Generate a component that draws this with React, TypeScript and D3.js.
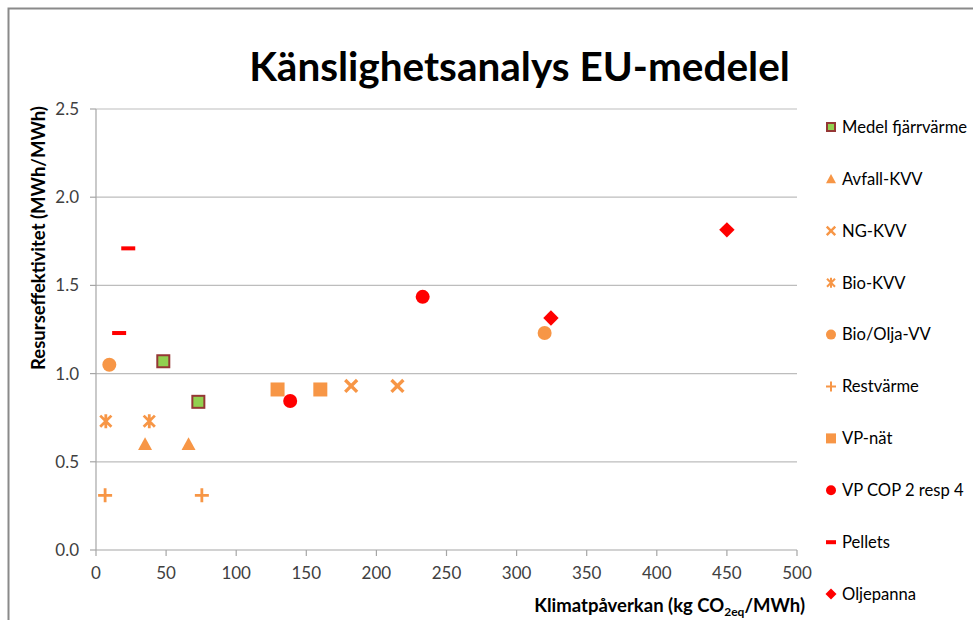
import React from "react";
import * as d3 from "d3";

// ---- data ----
const seriesNames = [
  "Medel fjärrvärme",
  "Avfall-KVV",
  "NG-KVV",
  "Bio-KVV",
  "Bio/Olja-VV",
  "Restvärme",
  "VP-nät",
  "VP COP 2 resp 4",
  "Pellets",
  "Oljepanna",
];
const medelFjarrvarme: [number, number][] = [[48, 1.07], [73, 0.84]];
const avfallKVV: [number, number][] = [[35, 0.6], [66, 0.6]];
const ngKVV: [number, number][] = [[182, 0.93], [215, 0.93]];
const bioKVV: [number, number][] = [[7, 0.73], [38, 0.73]];
const bioOljaVV: [number, number][] = [[9.5, 1.05], [320, 1.23]];
const restvarme: [number, number][] = [[6.5, 0.31], [75.5, 0.31]];
const vpNat: [number, number][] = [[129.5, 0.91], [160, 0.91]];
const vpCop: [number, number][] = [[138.5, 0.845], [233, 1.435]];
const pellets: [number, number][] = [[23, 1.71], [16.5, 1.23]];
const oljepanna: [number, number][] = [[450, 1.815], [324.5, 1.315]];
const seriesData = [medelFjarrvarme, avfallKVV, ngKVV, bioKVV, bioOljaVV, restvarme, vpNat, vpCop, pellets, oljepanna];

const xTicks = [0, 50, 100, 150, 200, 250, 300, 350, 400, 450, 500];
const yTicks = [0, 0.5, 1.0, 1.5, 2.0, 2.5];

const titleText = "Känslighetsanalys EU-medelel";
const yLabel = "Resurseffektivitet (MWh/MWh)";

// ---- styles ----
const ORANGE = "#F79646";
const RED = "#FF0000";
const GREEN = "#92D050";
const BORDER = "#953735";
const seriesSymbols = ["square-b", "triangle", "x", "star", "circle", "plus", "square", "circle", "dash", "diamond"];
const seriesColors = [GREEN, ORANGE, ORANGE, ORANGE, ORANGE, ORANGE, ORANGE, RED, RED, RED];

const FONT = "Lato, 'Open Sans', sans-serif";

function Marker({ type, color, cx, cy, s }: { type: string; color: string; cx: number; cy: number; s: number }) {
  const h = s / 2;
  switch (type) {
    case "square-b":
      return <rect x={cx - h + 1} y={cy - h + 1} width={s - 2} height={s - 2} fill={color} stroke={BORDER} strokeWidth={2} />;
    case "square":
      return <rect x={cx - h} y={cy - h} width={s} height={s} fill={color} />;
    case "circle":
      return <circle cx={cx} cy={cy} r={h} fill={color} />;
    case "triangle":
      return <path d={`M${cx},${cy - h}L${cx + h},${cy + h * 0.85}L${cx - h},${cy + h * 0.85}Z`} fill={color} />;
    case "diamond":
      return <path d={`M${cx},${cy - h * 1.1}L${cx + h * 1.1},${cy}L${cx},${cy + h * 1.1}L${cx - h * 1.1},${cy}Z`} fill={color} />;
    case "x": {
      const k = h * 0.85;
      return <path d={`M${cx - k},${cy - k}L${cx + k},${cy + k}M${cx + k},${cy - k}L${cx - k},${cy + k}`} stroke={color} strokeWidth={s * 0.24} fill="none" />;
    }
    case "star": {
      const k = h * 0.8;
      return <path d={`M${cx - k},${cy - k}L${cx + k},${cy + k}M${cx + k},${cy - k}L${cx - k},${cy + k}M${cx},${cy - h}L${cx},${cy + h}`} stroke={color} strokeWidth={s * 0.2} fill="none" />;
    }
    case "plus":
      return <path d={`M${cx - h},${cy}L${cx + h},${cy}M${cx},${cy - h}L${cx},${cy + h}`} stroke={color} strokeWidth={s * 0.2} fill="none" />;
    case "dash":
      return <rect x={cx - h} y={cy - 2} width={s} height={4} fill={color} />;
    default:
      return null;
  }
}

export default function App() {
  const W = 973, H = 620;
  const x = d3.scaleLinear().domain([0, 500]).range([96, 797]);
  const y = d3.scaleLinear().domain([0, 2.5]).range([550, 109]);
  const fmtY = d3.format(".1f");

  const legendX = 831;
  const legendY0 = 127;
  const legendStep = 51.9;

  return (
    <svg width={W} height={H} style={{ position: "absolute", left: 0, top: 0, background: "#fff" }} fontFamily={FONT}>
      <rect x={0} y={0} width={W} height={H} fill="#fff" />
      {/* chart frame */}
      <rect x={8.5} y={8.5} width={W + 20} height={H + 20} fill="none" stroke="#8a8a8a" strokeWidth={2} />

      {/* title */}
      <text x={519.5} y={81} textAnchor="middle" fontSize={40.5} fontWeight={700} fill="#000">{titleText}</text>

      {/* gridlines */}
      {yTicks.filter((t) => t > 0).map((t) => (
        <line key={"g" + t} x1={x(0)} x2={x(500)} y1={y(t)} y2={y(t)} stroke="#bdbdbd" strokeWidth={1.2} />
      ))}
      {/* axes */}
      <line x1={x(0)} x2={x(0)} y1={y(0)} y2={y(2.5)} stroke="#a6a6a6" strokeWidth={1.2} />
      <line x1={x(0)} x2={x(500)} y1={y(0)} y2={y(0)} stroke="#a6a6a6" strokeWidth={1.2} />
      {yTicks.map((t) => (
        <g key={"yt" + t}>
          <line x1={x(0) - 6} x2={x(0)} y1={y(t)} y2={y(t)} stroke="#a6a6a6" strokeWidth={1.2} />
          <text x={79} y={y(t)} dy="0.35em" textAnchor="end" fontSize={17} fill="#404040">{fmtY(t)}</text>
        </g>
      ))}
      {xTicks.map((t) => (
        <g key={"xt" + t}>
          <line x1={x(t)} x2={x(t)} y1={y(0)} y2={y(0) + 6} stroke="#a6a6a6" strokeWidth={1.2} />
          <text x={x(t)} y={579} textAnchor="middle" fontSize={17} fill="#404040">{t}</text>
        </g>
      ))}

      {/* axis titles */}
      <text transform={`translate(45,238) rotate(-90)`} textAnchor="middle" fontSize={18.5} fontWeight={700} fill="#000">{yLabel}</text>
      <text x={805} y={612} textAnchor="end" fontSize={18.5} fontWeight={700} fill="#000">
        Klimatpåverkan (kg CO<tspan fontSize={12} dy={4}>2eq</tspan><tspan dy={-4}>/MWh)</tspan>
      </text>

      {/* points */}
      {seriesData.map((pts, i) =>
        pts.map(([vx, vy], j) => (
          <Marker key={`p${i}-${j}`} type={seriesSymbols[i]} color={seriesColors[i]} cx={x(vx)} cy={y(vy)} s={14} />
        ))
      )}

      {/* legend */}
      {seriesNames.map((name, i) => {
        const ly = legendY0 + i * legendStep;
        return (
          <g key={"l" + i}>
            <Marker type={seriesSymbols[i]} color={seriesColors[i]} cx={legendX} cy={ly} s={10} />
            <text x={842} y={ly} dy="0.35em" fontSize={16.6} fill="#000">{name}</text>
          </g>
        );
      })}
    </svg>
  );
}
